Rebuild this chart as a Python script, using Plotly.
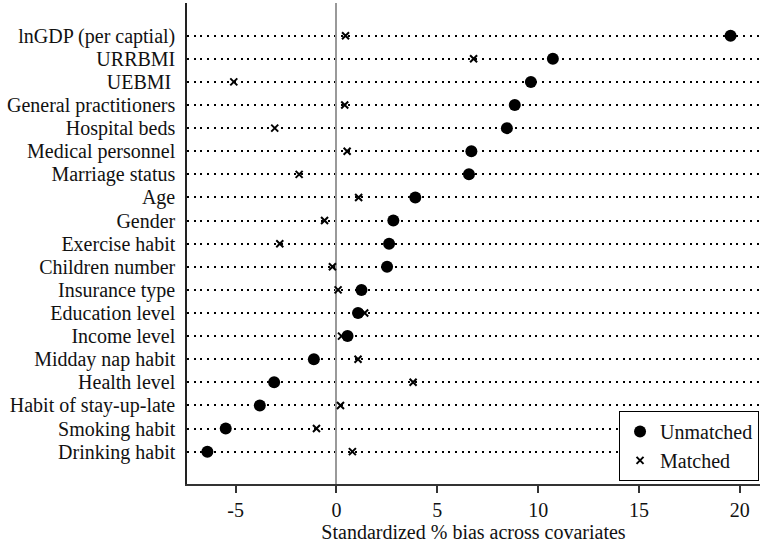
import plotly.graph_objects as go

covariates = [
    "lnGDP (per captial)", "URRBMI", "UEBMI\u2009", "General practitioners",
    "Hospital beds", "Medical personnel", "Marriage status", "Age", "Gender",
    "Exercise habit", "Children number", "Insurance type", "Education level",
    "Income level", "Midday nap habit", "Health level", "Habit of stay-up-late",
    "Smoking habit", "Drinking habit",
]
unmatched = [19.54, 10.73, 9.64, 8.84, 8.45, 6.69, 6.57, 3.91, 2.82, 2.61,
             2.51, 1.24, 1.07, 0.55, -1.12, -3.09, -3.80, -5.49, -6.40]
matched = [0.45, 6.80, -5.09, 0.41, -3.06, 0.53, -1.85, 1.10, -0.59, -2.81,
           -0.20, 0.08, 1.40, 0.25, 1.07, 3.80, 0.20, -0.99, 0.79]
x_ticks = [-5, 0, 5, 10, 15, 20]
x_tick_labels = ["-5", "0", "5", "10", "15", "20"]

rows = list(range(len(covariates)))
font_family = "Liberation Serif, Times New Roman, serif"

fig = go.Figure()
fig.add_trace(go.Scatter(
    x=unmatched, y=rows, mode="markers", name="Unmatched",
    marker=dict(symbol="circle", size=12, color="black"),
))
fig.add_trace(go.Scatter(
    x=matched, y=rows, mode="markers", name="Matched",
    marker=dict(symbol="x-thin", size=7, color="black",
                line=dict(width=2, color="black")),
))

fig.update_layout(
    width=767, height=544,
    margin=dict(l=187, r=7, t=3, b=60),
    paper_bgcolor="white", plot_bgcolor="white",
    font=dict(family=font_family, size=20, color="#111"),
    showlegend=True,
    legend=dict(
        x=0.754, y=0.152, xanchor="left", yanchor="top",
        bordercolor="black", borderwidth=1, bgcolor="white",
        font=dict(size=20), tracegroupgap=0,
    ),
    xaxis=dict(
        range=[-7.41, 21.0], tickvals=x_ticks, ticktext=x_tick_labels,
        ticks="outside", ticklen=7, tickwidth=1.5, tickcolor="#333",
        showline=True, linecolor="#333", linewidth=1.5,
        showgrid=False,
        zeroline=True, zerolinecolor="#999", zerolinewidth=1.5,
        title=dict(text="Standardized % bias across covariates",
                   font=dict(size=20), standoff=0),
        tickfont=dict(size=20),
    ),
    yaxis=dict(
        range=[18 + 1.40, -1.415], tickvals=rows, ticktext=covariates,
        ticks="", showline=True, linecolor="#222", linewidth=1.5,
        showgrid=True, gridcolor="black", gridwidth=2, griddash="2px,4.7px",
        zeroline=False, tickfont=dict(size=20),
        ticklabelstandoff=6,
    ),
)

fig.write_html("out.html")
